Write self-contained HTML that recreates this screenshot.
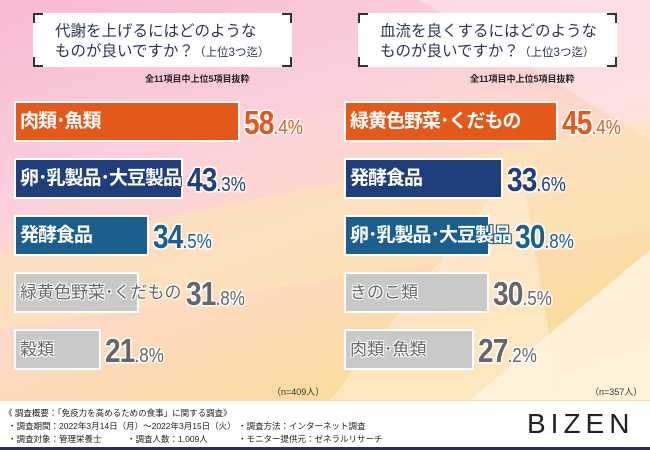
<!DOCTYPE html>
<html><head><meta charset="utf-8">
<style>
*{margin:0;padding:0;box-sizing:border-box}
body{width:650px;height:450px;overflow:hidden;font-family:"Liberation Sans","Noto Sans CJK JP",sans-serif;position:relative;
background:linear-gradient(160deg,#f7b9d3 0%,#fbd0dc 30%,#fcd9c6 50%,#fbdca0 75%,#fce0a8 100%);}
.streak{position:absolute;left:0;top:0;width:650px;height:400px;}
.tbox{position:absolute;background:#fff;width:259px;height:54px;}
.tbox .c{position:absolute;width:10px;height:10px;border-color:#333;border-style:solid;border-width:0}
.ttl{position:absolute;left:22px;top:9px;font-size:15.5px;line-height:20px;color:#2a3550;white-space:nowrap}
.ttl small{font-size:11.5px}
.sub{position:absolute;font-size:9px;color:#222;font-weight:bold}
.bar{position:absolute;height:41px;border:2px solid #fff}
.lbl{position:absolute;font-size:19px;font-weight:bold;white-space:nowrap;line-height:41px;color:#fff;letter-spacing:-1px}
.val{position:absolute;white-space:nowrap;line-height:41px;transform-origin:left center;transform:scaleX(0.85);
text-shadow:-1.5px -1.5px 0 #fff,1.5px -1.5px 0 #fff,-1.5px 1.5px 0 #fff,1.5px 1.5px 0 #fff}
.val b{font-size:33px;letter-spacing:-1px}.val i{font-style:normal;font-size:20px;font-weight:normal}
.n{position:absolute;font-size:9px;color:#333}
.footer{position:absolute;left:0;top:401px;width:650px;height:46px;background:#fff}
.ft{position:absolute;font-size:8.5px;color:#222;white-space:nowrap}
</style></head><body>
<svg class="streak">
<polygon points="420,0 650,0 650,140" fill="#fde6ee" opacity="0.6"/>
<polygon points="0,250 650,120 650,230 0,330" fill="#fde7b4" opacity="0.5"/>
<polygon points="470,400 650,250 650,400" fill="#fff6e6" opacity="0.8"/>
<polygon points="330,400 520,160 560,400" fill="#fff2dc" opacity="0.5"/>
</svg>

<div class="tbox" style="left:33px;top:13px">
<div class="c" style="left:0;top:0;border-left-width:2px;border-top-width:2px"></div>
<div class="c" style="right:0;top:0;border-right-width:2px;border-top-width:2px"></div>
<div class="c" style="left:0;bottom:0;border-left-width:2px;border-bottom-width:2px"></div>
<div class="c" style="right:0;bottom:0;border-right-width:2px;border-bottom-width:2px"></div>
<div class="ttl">代謝を上げるにはどのような<br>ものが良いですか？<small>（上位3つ迄）</small></div>
</div>
<div class="sub" style="left:145px;top:72px">全11項目中上位5項目抜粋</div>

<div class="tbox" style="left:358px;top:13px">
<div class="c" style="left:0;top:0;border-left-width:2px;border-top-width:2px"></div>
<div class="c" style="right:0;top:0;border-right-width:2px;border-top-width:2px"></div>
<div class="c" style="left:0;bottom:0;border-left-width:2px;border-bottom-width:2px"></div>
<div class="c" style="right:0;bottom:0;border-right-width:2px;border-bottom-width:2px"></div>
<div class="ttl">血流を良くするにはどのような<br>ものが良いですか？<small>（上位3つ迄）</small></div>
</div>
<div class="sub" style="left:470px;top:72px">全11項目中上位5項目抜粋</div>

<div id="charts"></div>

<div class="n" style="left:272px;top:385px">（n=409人）</div>
<div class="n" style="left:590px;top:385px">（n=357人）</div>

<div class="footer">
<div class="ft" style="left:4px;top:6px">《 調査概要：「免疫力を高めるための食事」に関する調査》</div>
<div class="ft" style="left:8px;top:19px">・調査期間：2022年3月14日（月）～2022年3月15日（火）</div>
<div class="ft" style="left:8px;top:32px">・調査対象：管理栄養士　　　・調査人数：1,009人</div>
<div class="ft" style="left:238px;top:19px">・調査方法：インターネット調査</div>
<div class="ft" style="left:238px;top:32px">・モニター提供元：ゼネラルリサーチ</div>
<div style="position:absolute;left:527px;top:7px;font-size:28px;letter-spacing:5px;color:#222">BIZEN</div>
</div>
<div style="position:absolute;left:0;top:447px;width:650px;height:3px;background:#2a2f55"></div>

<script>
const leftCategories=["肉類・魚類","卵・乳製品・大豆製品","発酵食品","緑黄色野菜・くだもの","穀類"];
const leftValues=[58.4,43.3,34.5,31.8,21.8];
const rightCategories=["緑黄色野菜・くだもの","発酵食品","卵・乳製品・大豆製品","きのこ類","肉類・魚類"];
const rightValues=[45.4,33.6,30.8,30.5,27.2];
const fills=["#e4581a","#1f3f7c","#1b5f8e","#c9c9c9","#c9c9c9"];
const txtCol=["#e4581a","#1f3f7c","#1b5f8e","#666","#666"];
const root=document.getElementById('charts');
function draw(cats,vals,x0,scale,side){
  const y=i=>101+i*57;
  cats.forEach((c,i)=>{
    const w=vals[i]*scale;
    const b=document.createElement('div');
    b.className='bar';
    
    
    b.style.cssText=`left:${x0-2}px;top:${y(i)}px;width:${w+4}px;background:${fills[i]}`;
    root.appendChild(b);
    const l=document.createElement('div');
    l.className='lbl';
    
    
    l.style.left=(x0+4)+'px';l.style.top=y(i)+'px';
    if(i>=3){l.style.color='#666';l.style.fontWeight='normal';l.style.fontSize='17px';l.style.letterSpacing='0';
      l.style.textShadow='-1px -1px 0 #fff,1px -1px 0 #fff,-1px 1px 0 #fff,1px 1px 0 #fff';}
    else{const o=fills[i];l.style.color='#fff';
      l.style.textShadow=`-1px -1px 0 ${o},1px -1px 0 ${o},-1px 1px 0 ${o},1px 1px 0 ${o}`;}
    l.textContent=c.replace(/・/g,'･');
    root.appendChild(l);
    const v=document.createElement('div');
    v.className='val';
    
    
    v.style.color=txtCol[i];
    v.style.top=(y(i)+1)+'px';
    const lw=l.getBoundingClientRect().width;
    v.style.left=Math.max(x0+w+6,x0+4+lw+4)+'px';
    const [a,d]=vals[i].toFixed(1).split('.');
    v.innerHTML='<b>'+a+'</b><i>.'+d+'%</i>';
    root.appendChild(v);
  });
}
draw(leftCategories,leftValues,16,3.8,'left');
draw(rightCategories,rightValues,346,4.62,'right');
</script>
</body></html>
